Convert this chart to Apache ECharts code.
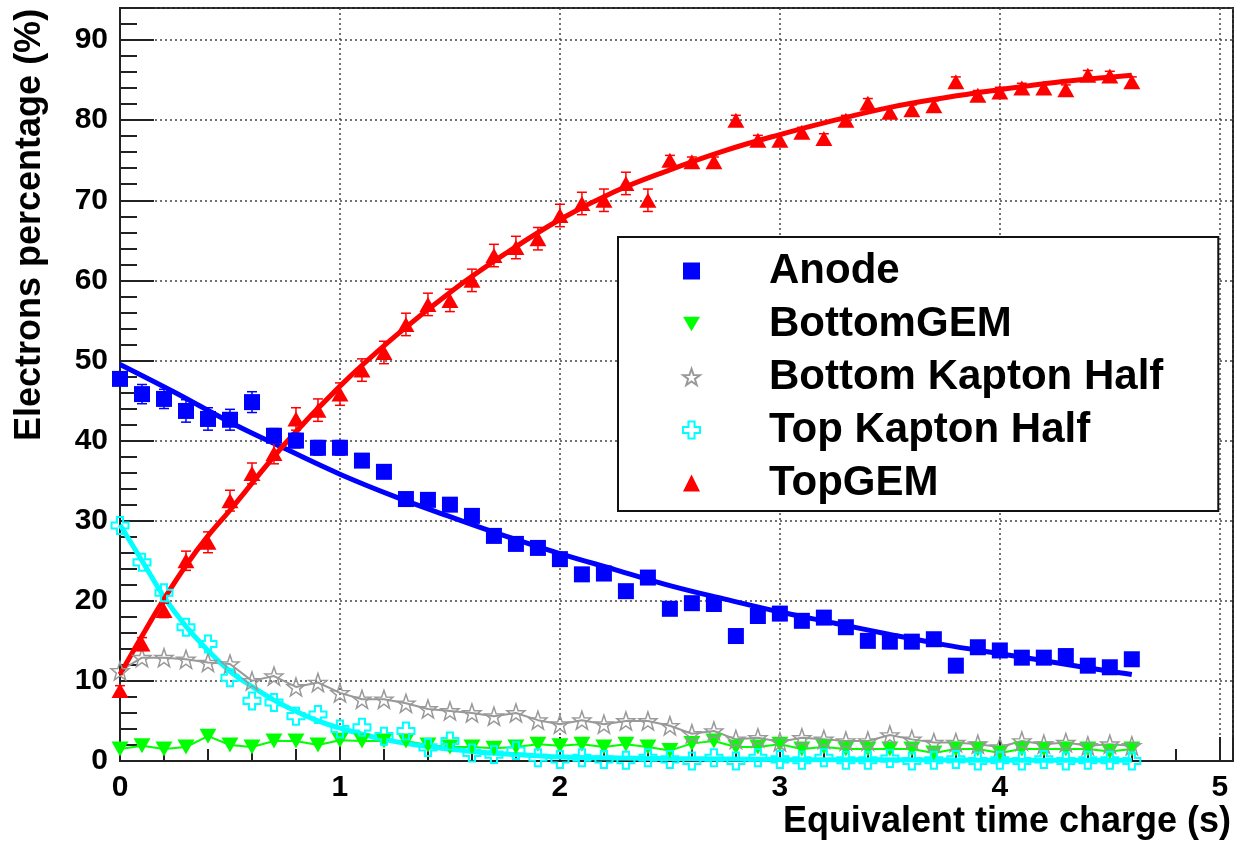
<!DOCTYPE html>
<html>
<head>
<meta charset="utf-8">
<script src="https://cdn.jsdelivr.net/npm/echarts@6/dist/echarts.min.js"></script>
<style>html,body{margin:0;padding:0;background:#fff}#c{width:1236px;height:842px}</style>
</head>
<body>
<div id="c"></div>
<script>
// ---- data ----
const xs = [0,0.1,0.2,0.3,0.4,0.5,0.6,0.7,0.8,0.9,1.0,1.1,1.2,1.3,1.4,1.5,1.6,1.7,1.8,1.9,2.0,2.1,2.2,2.3,2.4,2.5,2.6,2.7,2.8,2.9,3.0,3.1,3.2,3.3,3.4,3.5,3.6,3.7,3.8,3.9,4.0,4.1,4.2,4.3,4.4,4.5,4.6];
const anode = [47.7,45.8,45.2,43.7,42.7,42.6,44.8,40.6,40.0,39.1,39.1,37.5,36.1,32.7,32.6,32.0,30.6,28.1,27.1,26.6,25.2,23.3,23.4,21.2,22.9,19.0,19.7,19.6,15.6,18.1,18.4,17.5,17.9,16.7,15.0,14.9,14.9,15.2,11.9,14.2,13.8,12.9,12.9,13.1,11.9,11.7,12.7];
const anodeErr = [0.7,1.2,1.2,1.4,1.4,1.3,1.3,0.9,0.9,0.9,0.9,0.8,0.8,0.8,0.8,0.8,0.8,0.7,0.7,0.7,0.7,0.7,0.7,0.6,0.6,0.6,0.6,0.6,0.6,0.6,0.6,0.6,0.6,0.6,0.6,0.6,0.6,0.6,0.6,0.6,0.6,0.6,0.6,0.6,0.6,0.6,0.6];
const bottomGEM = [1.5,1.9,1.5,1.75,3.1,2.0,1.75,2.5,2.5,2.0,2.6,2.5,2.5,2.5,2.0,1.75,1.75,1.6,1.75,2.1,1.9,2.1,1.75,2.1,1.75,1.3,2.2,2.5,1.75,1.75,2.1,1.5,1.75,1.5,1.5,1.5,1.5,1.0,1.5,1.5,1.0,1.5,1.5,1.5,1.5,1.2,1.5];
const bottomKapton = [11.25,12.9,12.9,12.7,12.3,12.1,10.0,10.6,9.25,9.8,8.5,7.7,7.7,7.2,6.5,6.25,6.0,5.6,6.0,5.1,4.6,5.1,4.6,5.0,5.0,4.4,3.4,3.75,2.7,2.9,2.4,2.9,2.7,2.5,2.5,3.25,2.7,2.3,2.3,2.1,1.75,2.5,2.1,2.3,1.9,2.1,1.9];
const topKapton = [29.4,24.8,21.0,16.7,14.6,10.4,7.5,7.3,5.6,5.8,4.0,4.2,3.1,3.75,1.7,2.5,1.0,0.8,1.3,0.4,0.2,0.4,0.2,0.1,0.4,0.2,0.0,0.4,0.0,0.4,0.2,0.1,0.4,0.1,0.1,0.3,0.0,0.1,0.2,0.0,0.1,0.0,0.2,0.0,0.1,0.1,0.0];
const topGEM = [8.8,14.6,18.8,25.0,27.3,32.5,35.9,38.4,42.7,43.8,45.8,48.8,51.0,54.5,57.0,57.5,60.0,63.1,64.1,65.2,68.1,69.6,70.0,72.1,70.0,75.0,74.8,74.8,80.0,77.5,77.5,78.5,77.7,80.0,82.1,81.0,81.3,81.8,84.8,83.1,83.5,84.0,84.0,83.8,85.6,85.5,84.8];
const topGEMErr = [0.6,0.8,0.9,1.2,1.3,1.3,1.3,1.3,1.4,1.4,1.4,1.4,1.4,1.4,1.4,1.4,1.4,1.4,1.4,1.4,1.4,1.4,1.4,1.4,1.4,0.6,0.6,0.6,0.6,0.6,0.6,0.6,0.6,0.6,0.6,0.6,0.6,0.6,0.6,0.6,0.6,0.6,0.6,0.6,0.6,0.6,0.6];

// fitted curves
const anodeFitX = [0,0.25,0.5,0.75,1,1.25,1.5,1.75,2,2.25,2.5,2.75,3,3.25,3.5,3.75,4,4.25,4.5,4.6];
const anodeFitY = [49.5,46.0,42.3,39.0,35.8,33.0,30.5,28.1,25.9,23.9,21.9,20.2,18.6,17.2,15.8,14.5,13.4,12.3,11.2,10.8];
const topGEMFitX = [0,0.1,0.2,0.3,0.4,0.5,0.75,1,1.25,1.5,1.75,2,2.25,2.5,2.75,3,3.25,3.5,3.75,4,4.25,4.6];
const topGEMFitY = [10.8,15.6,20.2,24.4,28.1,31.3,39.6,46.8,53.0,58.5,63.3,67.6,71.1,73.8,76.2,78.2,80.0,81.6,82.8,83.8,84.7,85.6];
const topKaptonFitX = [0,0.1,0.2,0.3,0.4,0.5,0.6,0.7,0.8,0.9,1.0,1.2,1.4,1.6,1.8,2.0,2.5,3.0,3.5,4.0,4.6];
const topKaptonFitY = [29.5,25.0,20.5,16.8,13.8,11.2,9.3,7.6,6.2,5.0,4.1,2.7,1.8,1.2,0.8,0.5,0.3,0.2,0.15,0.1,0.1];

const xTicks = [0,1,2,3,4,5];
const yTicks = [0,10,20,30,40,50,60,70,80,90];

const FONT = '"Liberation Sans", Arial, Helvetica, sans-serif';
const zip = (a, b) => a.map((v, i) => [v, b[i]]);
const zip3 = (a, b, c) => a.map((v, i) => [v, b[i], c[i]]);

const downTri = 'path://M0,0 L10,0 L5,8.66 Z';
const crossPath = 'path://M3.2,0 L6.8,0 L6.8,3.2 L10,3.2 L10,6.8 L6.8,6.8 L6.8,10 L3.2,10 L3.2,6.8 L0,6.8 L0,3.2 L3.2,3.2 Z';
const starPath = 'path://M10,0 L12.35,6.76 L19.51,6.91 L13.8,11.24 L15.88,18.09 L10,14 L4.12,18.09 L6.2,11.24 L0.49,6.91 L7.65,6.76 Z';

function errRender(color) {
  return function (params, api) {
    const x = api.value(0), y = api.value(1), e = api.value(2);
    const p0 = api.coord([x, y - e]);
    const p1 = api.coord([x, y + e]);
    const hw = 5;
    const st = { stroke: color, lineWidth: 1.5 };
    return {
      type: 'group',
      children: [
        { type: 'line', shape: { x1: p0[0], y1: p0[1], x2: p1[0], y2: p1[1] }, style: st },
        { type: 'line', shape: { x1: p0[0] - hw, y1: p0[1], x2: p0[0] + hw, y2: p0[1] }, style: st },
        { type: 'line', shape: { x1: p1[0] - hw, y1: p1[1], x2: p1[0] + hw, y2: p1[1] }, style: st }
      ]
    };
  };
}

const isMult = (v, step) => Math.abs(v / step - Math.round(v / step)) < 1e-6;

const chart = echarts.init(document.getElementById('c'), null, { renderer: 'canvas' });
const option = {
  animation: false,
  backgroundColor: '#ffffff',
  grid: { left: 120, right: 3, top: 8, bottom: 81, show: true, borderColor: '#222', borderWidth: 2, backgroundColor: 'rgba(0,0,0,0)' },
  xAxis: [
    {
      type: 'value', min: xTicks[0], max: 5.06, interval: 1, position: 'bottom',
      axisLine: { show: true, onZero: false, lineStyle: { color: '#222', width: 2 } },
      axisTick: { show: true, inside: true, length: 24, lineStyle: { color: '#222', width: 2 } },
      axisLabel: { margin: 12, fontSize: 30, fontWeight: 'bold', color: '#000', fontFamily: FONT,
        formatter: v => (isMult(v, 1) && xTicks.indexOf(Math.round(v)) >= 0) ? String(Math.round(v)) : '' },
      splitLine: { show: true, lineStyle: { color: '#444', width: 1.5, type: [2, 3] } }
    },
    {
      type: 'value', min: 0, max: 5.06, interval: 0.2, position: 'bottom',
      axisLine: { show: false, onZero: false },
      axisTick: { show: true, inside: true, length: 12, lineStyle: { color: '#222', width: 2 } },
      axisLabel: { show: false }, splitLine: { show: false }
    }
  ],
  yAxis: [
    {
      type: 'value', min: yTicks[0], max: 94, interval: 10, position: 'left',
      axisLine: { show: true, onZero: false, lineStyle: { color: '#222', width: 2 } },
      axisTick: { show: true, inside: true, length: 34, lineStyle: { color: '#222', width: 2 } },
      axisLabel: { margin: 12, fontSize: 30, fontWeight: 'bold', color: '#000', fontFamily: FONT,
        formatter: v => (isMult(v, 10) && yTicks.indexOf(Math.round(v)) >= 0) ? String(Math.round(v)) : '' },
      splitLine: { show: true, lineStyle: { color: '#444', width: 1.5, type: [2, 3] } }
    },
    {
      type: 'value', min: 0, max: 94, interval: 2, position: 'left',
      axisLine: { show: false, onZero: false },
      axisTick: { show: true, inside: true, length: 17, lineStyle: { color: '#222', width: 2 } },
      axisLabel: { show: false }, splitLine: { show: false }
    }
  ],
  legend: {
    orient: 'vertical', left: 618, top: 237,
    padding: [13, 55, 7, 64], itemGap: 11, itemWidth: 17, itemHeight: 17,
    borderColor: '#111', borderWidth: 2, backgroundColor: '#ffffff', selectedMode: false,
    textStyle: { fontSize: 42, fontWeight: 'bold', fontFamily: FONT, color: '#000', lineHeight: 42, padding: [0, 0, 0, 64] },
    data: ['Anode', 'BottomGEM', 'Bottom Kapton Half', 'Top Kapton Half', 'TopGEM']
  },
  graphic: [
    { type: 'text', x: 30, y: 441, rotation: Math.PI / 2, z: 10,
      style: { text: 'Electrons percentage (%)', fill: '#000', font: 'bold 36px ' + FONT, align: 'left', verticalAlign: 'middle' } },
    { type: 'text', x: 1231, y: 822, z: 10,
      style: { text: 'Equivalent time charge (s)', fill: '#000', font: 'bold 36px ' + FONT, align: 'right', verticalAlign: 'middle' } }
  ],
  series: [
    { name: 'Bottom Kapton line', type: 'line', data: zip(xs, bottomKapton), showSymbol: false, symbol: 'none',
      lineStyle: { color: '#999999', width: 2 }, z: 2, silent: true },
    { name: 'BottomGEM line', type: 'line', data: zip(xs, bottomGEM), showSymbol: false, symbol: 'none',
      lineStyle: { color: '#00ff00', width: 2 }, z: 2, silent: true },
    { name: 'Top Kapton fit', type: 'line', data: zip(topKaptonFitX, topKaptonFitY), showSymbol: false, symbol: 'none', smooth: 0.4,
      lineStyle: { color: '#00ffff', width: 5 }, z: 2, silent: true },
    { name: 'Anode fit', type: 'line', data: zip(anodeFitX, anodeFitY), showSymbol: false, symbol: 'none', smooth: 0.4,
      lineStyle: { color: '#0000ff', width: 5 }, z: 2, silent: true },
    { name: 'TopGEM fit', type: 'line', data: zip(topGEMFitX, topGEMFitY), showSymbol: false, symbol: 'none', smooth: 0.4,
      lineStyle: { color: '#ff0000', width: 5 }, z: 2, silent: true },
    { name: 'Anode err', type: 'custom', renderItem: errRender('#0000ff'), data: zip3(xs, anode, anodeErr), z: 3, silent: true },
    { name: 'TopGEM err', type: 'custom', renderItem: errRender('#ff0000'), data: zip3(xs, topGEM, topGEMErr), z: 3, silent: true },
    { name: 'Anode', type: 'scatter', data: zip(xs, anode), symbol: 'rect', symbolSize: 16, clip: false,
      itemStyle: { color: '#0000ff', opacity: 1 }, z: 4 },
    { name: 'BottomGEM', type: 'scatter', data: zip(xs, bottomGEM), symbol: downTri, symbolSize: [17, 15], clip: false,
      itemStyle: { color: '#00ff00', opacity: 1 }, z: 4 },
    { name: 'Bottom Kapton Half', type: 'scatter', data: zip(xs, bottomKapton), symbol: starPath, symbolSize: 18, clip: false,
      itemStyle: { color: 'rgba(255,255,255,0)', borderColor: '#999999', borderWidth: 1.5, opacity: 1 }, z: 4 },
    { name: 'Top Kapton Half', type: 'scatter', data: zip(xs, topKapton), symbol: crossPath, symbolSize: 17, clip: false,
      itemStyle: { color: 'rgba(255,255,255,0)', borderColor: '#00ffff', borderWidth: 2, opacity: 1 }, z: 4 },
    { name: 'TopGEM', type: 'scatter', data: zip(xs, topGEM), symbol: 'triangle', symbolSize: [17, 15], clip: false,
      itemStyle: { color: '#ff0000', opacity: 1 }, z: 4 }
  ]
};
chart.setOption(option);
</script>
</body>
</html>
